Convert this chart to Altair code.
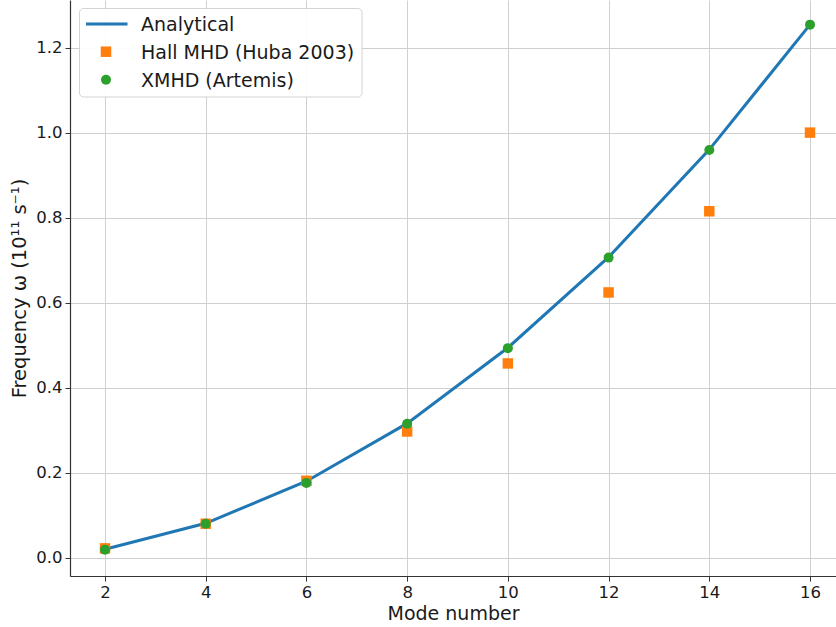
import altair as alt
import pandas as pd

# Mode numbers and the three frequency series (units of 1e11 s^-1)
modes = [2, 4, 6, 8, 10, 12, 14, 16]
analytical = [0.020, 0.081, 0.180, 0.316, 0.494, 0.707, 0.960, 1.254]
hall_mhd = [0.022, 0.080, 0.181, 0.297, 0.457, 0.624, 0.815, 1.000]
xmhd = [0.019, 0.080, 0.176, 0.315, 0.493, 0.706, 0.959, 1.254]

series_names = ["Analytical", "Hall MHD (Huba 2003)", "XMHD (Artemis)"]
x_ticks = [2, 4, 6, 8, 10, 12, 14, 16]
y_ticks = [0.0, 0.2, 0.4, 0.6, 0.8, 1.0, 1.2]

BLUE, ORANGE, GREEN = "#1f77b4", "#ff7f0e", "#2ca02c"
FONT = "DejaVu Sans"
SQ_SIZE, CI_SIZE = 110, 100

df_an = pd.DataFrame({"mode": modes, "freq": analytical})
df_hall = pd.DataFrame({"mode": modes, "freq": hall_mhd})
df_x = pd.DataFrame({"mode": modes, "freq": xmhd})

x_enc = alt.X(
    "mode:Q",
    scale=alt.Scale(domain=[1.305, 16.516], nice=False, zero=False),
    axis=alt.Axis(values=x_ticks, title="Mode number", format="d"),
)
y_enc = alt.Y(
    "freq:Q",
    scale=alt.Scale(domain=[-0.043, 1.312], nice=False, zero=False),
    axis=alt.Axis(values=y_ticks, title="Frequency ω (10¹¹ s⁻¹)", format=".1f"),
)

line = alt.Chart(df_an).mark_line(color=BLUE, strokeWidth=3, clip=True).encode(x=x_enc, y=y_enc)
hall = alt.Chart(df_hall).mark_point(
    shape="square", filled=True, size=SQ_SIZE, color=ORANGE, opacity=1
).encode(x="mode:Q", y="freq:Q")
art = alt.Chart(df_x).mark_point(
    shape="circle", filled=True, size=CI_SIZE, color=GREEN, opacity=1
).encode(x="mode:Q", y="freq:Q")

# Legend box in the upper-left corner of the plot area
one = pd.DataFrame({"k": [0]})
leg_box = alt.Chart(one).mark_rect(
    fill="white", fillOpacity=0.9, stroke="#d3d3d3", strokeWidth=1, cornerRadius=4
).encode(x=alt.value(9.5), x2=alt.value(292), y=alt.value(8.5), y2=alt.value(97))
leg_line = alt.Chart(one).mark_rule(color=BLUE, strokeWidth=3).encode(
    x=alt.value(16), x2=alt.value(57.5), y=alt.value(24)
)
leg_sq = alt.Chart(one).mark_point(
    shape="square", filled=True, size=SQ_SIZE, color=ORANGE, opacity=1
).encode(x=alt.value(36), y=alt.value(51.7))
leg_ci = alt.Chart(one).mark_point(
    shape="circle", filled=True, size=CI_SIZE, color=GREEN, opacity=1
).encode(x=alt.value(36), y=alt.value(79.7))


def leg_text(label, ypix):
    return alt.Chart(one).mark_text(
        align="left", baseline="middle", font=FONT, fontSize=19, color="#1a1a1a"
    ).encode(x=alt.value(71), y=alt.value(ypix), text=alt.value(label))


chart = alt.layer(
    line, hall, art,
    leg_box, leg_line, leg_sq, leg_ci,
    leg_text(series_names[0], 24.5),
    leg_text(series_names[1], 52.5),
    leg_text(series_names[2], 80.5),
).properties(
    width=766,
    height=576,
    padding={"left": 70, "top": 0, "right": 0, "bottom": 51},
    autosize=alt.AutoSizeParams(type="none"),
    background="white",
).configure_view(
    stroke=None
).configure_axis(
    labelFont=FONT,
    titleFont=FONT,
    labelFontSize=16.5,
    titleFontSize=19,
    labelColor="#1a1a1a",
    titleColor="#1a1a1a",
    titleFontWeight="normal",
    domainColor="#333333",
    domainWidth=1.2,
    tickColor="#333333",
    tickSize=5,
    tickWidth=1,
    gridColor="#d0d0d0",
    gridWidth=1,
    labelPadding=3,
).configure_axisX(
    titlePadding=4,
).configure_axisY(
    titlePadding=6,
    titleFontSize=19.5,
)

chart.save("out.html", embed_options={"renderer": "svg", "actions": False})
